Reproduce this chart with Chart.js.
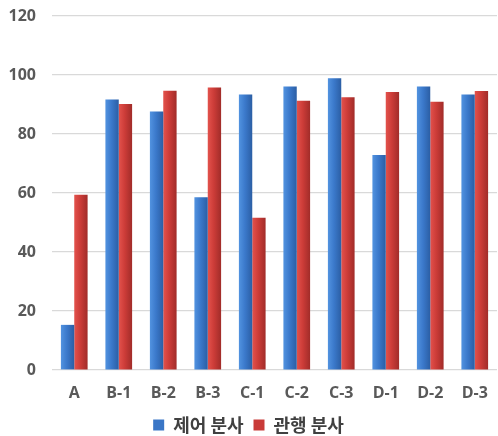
<!DOCTYPE html>
<html>
<head>
<meta charset="utf-8">
<script src="https://cdn.jsdelivr.net/npm/chart.js@4"></script>
<style>
  html, body { margin: 0; padding: 0; background: #ffffff; }
  #wrap { width: 498px; height: 436px; }
</style>
</head>
<body>
<div id="wrap"><canvas id="c" width="498" height="436"></canvas></div>
<script>
const categories = ['A', 'B-1', 'B-2', 'B-3', 'C-1', 'C-2', 'C-3', 'D-1', 'D-2', 'D-3'];
const controlSpray = [15.3, 91.7, 87.6, 58.6, 93.4, 96.1, 98.9, 72.9, 96.1, 93.4];
const conventionalSpray = [59.4, 90.2, 94.7, 95.8, 51.6, 91.3, 92.5, 94.2, 90.9, 94.6];
const seriesNames = ['제어 분사', '관행 분사'];
const yTicks = [0, 20, 40, 60, 80, 100, 120];

const palettes = [
  { flat: '#3a76c6', stops: ['#5293e0', '#3b79cb', '#2b5ea4'] },
  { flat: '#c93b38', stops: ['#e3524c', '#cc3c38', '#a12c29'] }
];

// Horizontal shading so each bar reads as slightly rounded.
function barFill(ctx) {
  const chart = ctx.chart;
  const pal = palettes[ctx.datasetIndex];
  const xs = chart.scales && chart.scales.x;
  if (!chart.chartArea || !xs || ctx.type !== 'data') return pal.flat;
  const catW = xs.width / categories.length;
  const barW = catW * 0.6 / 2;
  const center = xs.getPixelForValue(ctx.dataIndex);
  const left = ctx.datasetIndex === 0 ? center - barW : center;
  const g = chart.ctx.createLinearGradient(left, 0, left + barW, 0);
  g.addColorStop(0, pal.stops[0]);
  g.addColorStop(0.45, pal.stops[1]);
  g.addColorStop(1, pal.stops[2]);
  return g;
}

const tickFont = { family: "'Open Sans', 'Liberation Sans', sans-serif", size: 16, weight: 'bold' };

new Chart(document.getElementById('c'), {
  type: 'bar',
  data: {
    labels: categories,
    datasets: [
      { label: seriesNames[0], data: controlSpray, backgroundColor: barFill, borderWidth: 0 },
      { label: seriesNames[1], data: conventionalSpray, backgroundColor: barFill, borderWidth: 0 }
    ]
  },
  options: {
    responsive: false,
    animation: false,
    layout: { padding: { top: 16, right: 1, left: 0, bottom: -8 } },
    datasets: { bar: { categoryPercentage: 0.6, barPercentage: 1.0 } },
    plugins: {
      tooltip: { enabled: false },
      legend: {
        position: 'bottom',
        labels: {
          boxWidth: 11,
          boxHeight: 11,
          padding: 10,
          color: '#404040',
          font: { family: "'Noto Sans CJK KR', 'Noto Sans', sans-serif", size: 18, weight: 'bold' },
          generateLabels(chart) {
            return chart.data.datasets.map((ds, i) => ({
              text: ds.label,
              fillStyle: palettes[i].flat,
              strokeStyle: palettes[i].flat,
              lineWidth: 0,
              datasetIndex: i,
              fontColor: '#404040'
            }));
          }
        }
      }
    },
    scales: {
      x: {
        grid: { display: false, drawTicks: false },
        border: { display: false },
        afterFit(axis) { axis.height = 36; axis.paddingLeft = 0; axis.paddingRight = 0; },
        ticks: { padding: 14, color: '#595959', font: tickFont }
      },
      y: {
        min: 0,
        max: 120,
        afterBuildTicks(axis) { axis.ticks = yTicks.map(v => ({ value: v })); },
        afterFit(axis) { axis.width = 52; axis.paddingTop = 0; axis.paddingBottom = 0; },
        grid: { color: '#d9d9d9', lineWidth: 1.2, drawTicks: false },
        border: { display: false },
        ticks: { padding: 16, color: '#595959', font: tickFont }
      }
    }
  }
});
</script>
</body>
</html>
